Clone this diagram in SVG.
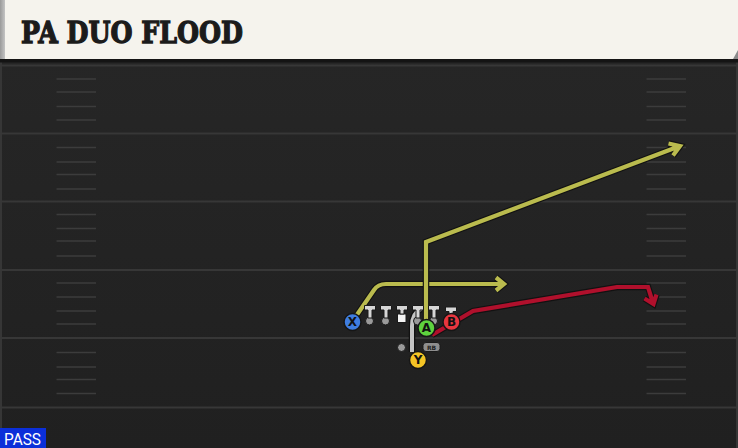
<svg xmlns="http://www.w3.org/2000/svg" width="738" height="448" viewBox="0 0 738 448">
  <defs>
    <linearGradient id="fieldGrad" x1="0" y1="0" x2="0" y2="1">
      <stop offset="0" stop-color="#262626"/>
      <stop offset="1" stop-color="#202020"/>
    </linearGradient>
    <linearGradient id="stripGrad" x1="0" y1="0" x2="1" y2="0">
      <stop offset="0" stop-color="#9a9a9a"/>
      <stop offset="1" stop-color="#c4c4c4"/>
    </linearGradient>
  </defs>
  <style>
    .yard { stroke: #373737; stroke-width: 2; }
    .hash { stroke: #3c3c3c; stroke-width: 1.5; }
    .out { fill: none; stroke: #121212; stroke-width: 6.5; stroke-linejoin: miter; stroke-linecap: butt; }
    .olive { fill: none; stroke: #babb4e; stroke-width: 4.2; stroke-linejoin: miter; stroke-linecap: butt; }
    .red { fill: none; stroke: #b0102c; stroke-width: 4.2; stroke-linejoin: miter; stroke-linecap: butt; }
    .fake { fill: none; stroke: #c4c4c4; stroke-width: 4; stroke-linecap: butt; }
    .blk { fill: #d6d6d6; stroke: #1a1a1a; stroke-width: 1; }
    .ol { fill: #9a9a9a; stroke: #1a1a1a; stroke-width: 1; }
    .ply { stroke: #161616; stroke-width: 1.5; }
    .lbl { font-family: "DejaVu Sans", "Liberation Sans", sans-serif; font-weight: bold; font-size: 12px; fill: #111; text-anchor: middle; }
  </style>

  <!-- field -->
  <rect x="0" y="59" width="738" height="389" fill="url(#fieldGrad)"/>
  <rect x="0" y="59" width="2" height="389" fill="#363636"/>
  <rect x="736" y="59" width="2" height="389" fill="#363636"/>
  <g id="yardlines">
    <line class="yard" x1="0" y1="65.5" x2="738" y2="65.5"/>
    <line class="yard" x1="0" y1="133.5" x2="738" y2="133.5"/>
    <line class="yard" x1="0" y1="201.5" x2="738" y2="201.5"/>
    <line class="yard" x1="0" y1="270" x2="738" y2="270"/>
    <line class="yard" x1="0" y1="338" x2="738" y2="338"/>
    <line class="yard" x1="0" y1="407.5" x2="738" y2="407.5"/>
  </g>
  <g id="hashes">
    <path class="hash" d="M56.5 79H96M56.5 92H96M56.5 106.5H96M56.5 120H96M56.5 147.5H96M56.5 162H96M56.5 174.5H96M56.5 189H96M56.5 214.5H96M56.5 228.5H96M56.5 241H96M56.5 256H96M56.5 283H96M56.5 297H96M56.5 311H96M56.5 324H96M56.5 352.5H96M56.5 367H96M56.5 379.5H96M56.5 393.5H96"/>
    <path class="hash" d="M646.5 79H686M646.5 92H686M646.5 106.5H686M646.5 120H686M646.5 147.5H686M646.5 162H686M646.5 174.5H686M646.5 189H686M646.5 214.5H686M646.5 228.5H686M646.5 241H686M646.5 256H686M646.5 283H686M646.5 297H686M646.5 311H686M646.5 324H686M646.5 352.5H686M646.5 367H686M646.5 379.5H686M646.5 393.5H686"/>
  </g>

  <!-- header -->
  <g id="header">
    <rect x="0" y="59" width="738" height="3.5" fill="#141414"/>
    <polygon points="5,0 738,0 738,50 733,59 5,59" fill="#f5f3ed"/>
    <polygon points="733,59 738,50 738,59" fill="#8a8a8a"/>
    <rect x="0" y="0" width="5" height="59" fill="url(#stripGrad)"/>
    <text id="title" x="21" y="42.5" font-family="'DejaVu Serif', 'Liberation Serif', serif" font-weight="900" font-size="29" fill="#1b1b1b" stroke="#1b1b1b" stroke-width="1.3" stroke-linejoin="miter" textLength="222" lengthAdjust="spacingAndGlyphs">PA DUO FLOOD</text>
  </g>

  <!-- connectors -->
  <g id="connectors">
    <path class="out" d="M412 352 L412 326 Q412 313 421 309"/>
    <path class="fake" d="M412 352 L412 326 Q412 313 421 309"/>

    <path class="out" d="M352 322 L374 290 Q378 284 386 284 L504 284 M496 277.5 L504 284 L496 290.5"/>
    <path class="olive" d="M352 322 L374 290 Q378 284 386 284 L504 284 M496 277.5 L504 284 L496 290.5"/>

    <path class="out" d="M426 328 L426 242 L680 146 M668.5 143.5 L680 146 L673 155.5"/>
    <path class="olive" d="M426 328 L426 242 L680 146 M668.5 143.5 L680 146 L673 155.5"/>

    <path class="out" d="M432 335 L473 311 L617 287 L648 287 L653 303 M644.5 298.5 L653.5 304 L656.5 294.5"/>
    <path class="red" d="M432 335 L473 311 L617 287 L648 287 L653 303 M644.5 298.5 L653.5 304 L656.5 294.5"/>
  </g>

  <!-- line -->
  <g id="lineman-1">
    <circle class="ol" cx="369.5" cy="321" r="4"/>
    <path class="blk" d="M364.5 305.5 H375.5 V310 H372 V318 H368 V310 H364.5 Z"/>
  </g>
  <g id="lineman-2">
    <circle class="ol" cx="385.5" cy="321" r="4"/>
    <path class="blk" d="M380.5 305.5 H391.5 V310 H388 V318 H384 V310 H380.5 Z"/>
  </g>
  <g id="center">
    <rect x="397.5" y="314" width="8.5" height="8.5" fill="#f4f4f4" stroke="#1a1a1a" stroke-width="1"/>
    <path class="blk" d="M396.5 305.5 H407.5 V310 H404 V314 H400 V310 H396.5 Z"/>
  </g>
  <g id="lineman-4">
    <circle class="ol" cx="417.5" cy="321" r="4"/>
    <path class="blk" d="M412.5 305.5 H423.5 V310 H420 V318 H416 V310 H412.5 Z"/>
  </g>
  <g id="lineman-5">
    <circle class="ol" cx="433.5" cy="321" r="4"/>
    <path class="blk" d="M428.5 305.5 H439.5 V310 H436 V318 H432 V310 H428.5 Z"/>
  </g>
  <g id="block-B">
    <path class="blk" d="M445.5 307 H456.5 V311.5 H453 V315 H449 V311.5 H445.5 Z"/>
  </g>

  <g id="qb-dot">
    <circle class="ol" cx="401.5" cy="347.5" r="4"/>
  </g>
  <g id="rb-tag">
    <rect x="423" y="342.5" width="17" height="9" rx="3" fill="#8e8e8e" stroke="#1a1a1a" stroke-width="1"/>
    <text x="431.5" y="349.8" font-family="'DejaVu Sans', sans-serif" font-weight="bold" font-size="6" fill="#1e1e1e" text-anchor="middle">RB</text>
  </g>

  <!-- players -->
  <g id="player-X">
    <circle class="ply" cx="352.5" cy="322" r="8.5" fill="#3f7de0"/>
    <text class="lbl" x="352.5" y="326.3">X</text>
  </g>
  <g id="player-A">
    <circle class="ply" cx="426.5" cy="328" r="8.5" fill="#5ed23e"/>
    <text class="lbl" x="426.5" y="332.3">A</text>
  </g>
  <g id="player-B">
    <circle class="ply" cx="451.5" cy="322" r="8.5" fill="#e8363f"/>
    <text class="lbl" x="451.5" y="326.3">B</text>
  </g>
  <g id="player-Y">
    <circle class="ply" cx="418" cy="360" r="8.5" fill="#f4c425"/>
    <text class="lbl" x="418" y="364.3">Y</text>
  </g>

  <!-- play type -->
  <g id="pass-label">
    <rect x="0" y="428" width="46" height="20" fill="#0b2fd9"/>
    <text x="4" y="445" font-family="Roboto, 'Liberation Sans', sans-serif" font-size="16" fill="#ffffff" textLength="37" lengthAdjust="spacingAndGlyphs">PASS</text>
  </g>
</svg>
